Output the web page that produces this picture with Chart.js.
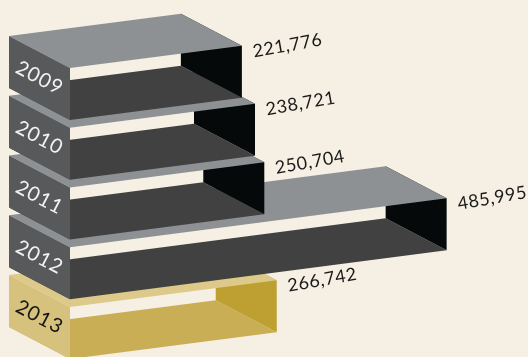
<!DOCTYPE html>
<html>
<head>
<meta charset="utf-8">
<script src="https://cdn.jsdelivr.net/npm/chart.js@4.4.0/dist/chart.umd.min.js"></script>
<style>
    html, body { margin: 0; padding: 0; background: #f5f0e3; }
    #wrap { width: 528px; height: 357px; }
</style>
</head>
<body>
<div id="wrap"><canvas id="boxChart" width="528" height="357"></canvas></div>
<script>
// data
const years = ["2009", "2010", "2011", "2012", "2013"];
const visitors = [221776, 238721, 250704, 485995, 266742];
const valueLabels = ["221,776", "238,721", "250,704", "485,995", "266,742"];

// box look
const BOX_H = 52;       // height of a box
const DEPTH_X = 61;     // depth going back (left)
const DEPTH_Y = 32;     // depth going back (up)
const SLOPE = 0.13;     // long edges rise to the right

const greyBox = { top: "#8e9194", side: "#58595b", floor: "#414141", wall: "#050909", text: "#f2f2f2" };
const goldBox = { top: "#ddca8a", side: "#d6c27d", floor: "#c9ae56", wall: "#bea032", text: "#161616" };

function poly(ctx, pts, color) {
    ctx.beginPath();
    ctx.moveTo(pts[0][0], pts[0][1]);
    for (var i = 1; i < pts.length; i++) {
        ctx.lineTo(pts[i][0], pts[i][1]);
    }
    ctx.closePath();
    ctx.fillStyle = color;
    ctx.fill();
}

const boxPlugin = {
    id: "boxes",
    beforeDraw(chart) {
        var ctx = chart.ctx;
        ctx.save();
        ctx.fillStyle = "#f5f0e3";
        ctx.fillRect(0, 0, chart.width, chart.height);
        ctx.restore();
    },
    afterDatasetsDraw(chart) {
        var ctx = chart.ctx;
        var meta = chart.getDatasetMeta(0);
        ctx.save();
        // bottom box first, the upper ones overlap it
        for (var i = meta.data.length - 1; i >= 0; i--) {
            var bar = meta.data[i].getProps(["x", "y", "base"], true);
            var col = i === years.length - 1 ? goldBox : greyBox;
            var x0 = bar.base;
            var y0 = bar.y - BOX_H / 2;
            var len = bar.x - bar.base;
            var rise = -SLOPE * len;

            var ftl = [x0, y0];
            var ftr = [x0 + len, y0 + rise];
            var btl = [x0 - DEPTH_X, y0 - DEPTH_Y];
            var btr = [x0 + len - DEPTH_X, y0 + rise - DEPTH_Y];
            var fbl = [ftl[0], ftl[1] + BOX_H];
            var fbr = [ftr[0], ftr[1] + BOX_H];
            var bbl = [btl[0], btl[1] + BOX_H];
            var bbr = [btr[0], btr[1] + BOX_H];

            poly(ctx, [bbl, bbr, fbr, fbl], col.floor);
            poly(ctx, [btr, ftr, fbr, bbr], col.wall);
            poly(ctx, [btl, btr, ftr, ftl], col.top);
            poly(ctx, [btl, ftl, fbl, bbl], col.side);

            // year on the end face
            ctx.save();
            ctx.translate(x0 - DEPTH_X / 2, y0 - DEPTH_Y / 2 + BOX_H / 2);
            ctx.rotate(Math.atan2(DEPTH_Y, DEPTH_X));
            ctx.fillStyle = col.text;
            ctx.font = "20px Lato";
            ctx.letterSpacing = "1px";
            ctx.textAlign = "center";
            ctx.textBaseline = "middle";
            ctx.fillText(years[i], 0, 0);
            ctx.restore();

            // value next to the front corner
            ctx.save();
            ctx.translate(ftr[0] + 11, ftr[1] + 6);
            ctx.rotate(-10 * Math.PI / 180);
            ctx.fillStyle = "#1a1a1a";
            ctx.font = "18px Lato";
            ctx.letterSpacing = "0.5px";
            ctx.textAlign = "left";
            ctx.textBaseline = "middle";
            ctx.fillText(valueLabels[i], 0, 0);
            ctx.restore();
        }
        ctx.restore();
    }
};

var ctx = document.getElementById("boxChart");
var boxChart = new Chart(ctx, {
    type: "bar",
    data: {
        labels: years,
        datasets: [
            {
                label: "Visitors",
                data: visitors,
                backgroundColor: "rgba(0,0,0,0)",
                borderWidth: 0,
            },
        ],
    },
    options: {
        indexAxis: "y",
        responsive: false,
        animation: false,
        devicePixelRatio: 1,
        layout: {
            padding: { left: 70, right: 70.5, top: 94, bottom: 24 },
        },
        plugins: {
            legend: { display: false },
            tooltip: { enabled: false },
        },
        scales: {
            x: { type: "linear", min: 0, max: 500000, display: false },
            y: { display: false, offset: false },
        },
    },
    plugins: [boxPlugin],
});
</script>
</body>
</html>
